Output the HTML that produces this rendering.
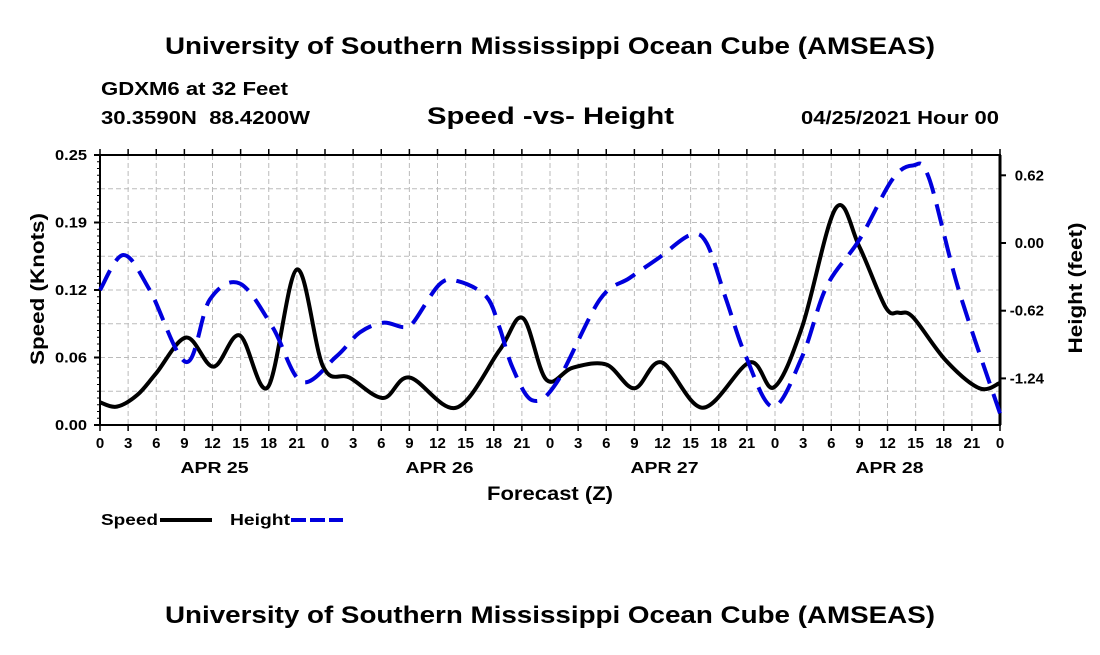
<!DOCTYPE html>
<html><head><meta charset="utf-8">
<style>
body{margin:0;background:#fff;width:1100px;height:650px;overflow:hidden;font-family:"Liberation Sans",sans-serif;}
svg text{font-family:"Liberation Sans",sans-serif;font-weight:bold;fill:#000;}
</style></head>
<body>
<svg id="chart" width="1100" height="650" xmlns="http://www.w3.org/2000/svg">
<text x="165" y="54" font-size="24" textLength="770" lengthAdjust="spacingAndGlyphs">University of Southern Mississippi Ocean Cube (AMSEAS)</text>
<text x="101" y="95" font-size="18" textLength="187" lengthAdjust="spacingAndGlyphs">GDXM6 at 32 Feet</text>
<text x="101" y="124" font-size="18" textLength="209" lengthAdjust="spacingAndGlyphs" xml:space="preserve">30.3590N  88.4200W</text>
<text x="427" y="124" font-size="24" textLength="247" lengthAdjust="spacingAndGlyphs">Speed -vs- Height</text>
<text x="801" y="124" font-size="18" textLength="198" lengthAdjust="spacingAndGlyphs">04/25/2021 Hour 00</text>
<g id="grid"></g>
<g id="axes"></g>
<g id="series"></g>
<text transform="translate(44,289) rotate(-90)" font-size="19" text-anchor="middle" textLength="152" lengthAdjust="spacingAndGlyphs">Speed (Knots)</text>
<text transform="translate(1082,288) rotate(-90)" font-size="19" text-anchor="middle" textLength="131" lengthAdjust="spacingAndGlyphs">Height (feet)</text>
<text x="487" y="500" font-size="19" textLength="126" lengthAdjust="spacingAndGlyphs">Forecast (Z)</text>
<g>
<text x="101" y="525" font-size="16" textLength="57" lengthAdjust="spacingAndGlyphs">Speed</text>
<line x1="160" y1="520" x2="212" y2="520" stroke="#000" stroke-width="4"/>
<text x="230" y="525" font-size="16" textLength="60" lengthAdjust="spacingAndGlyphs">Height</text>
<line x1="291" y1="520" x2="343" y2="520" stroke="#0000dd" stroke-width="4" stroke-dasharray="15,4"/>
</g>
<text x="165" y="623" font-size="24" textLength="770" lengthAdjust="spacingAndGlyphs">University of Southern Mississippi Ocean Cube (AMSEAS)</text>
</svg>
<script>
const speedHours=[0,1.8,4,6,9.2,12.1,14.9,17.9,21,23.8,26.6,30.2,33,38,42.6,45.1,47.6,50.4,54,57,59.9,64.3,69.3,71.9,74.9,78.5,81,83.8,85.2,86.7,90.2,93.8,96];
const speedValues=[0.021,0.017,0.028,0.048,0.081,0.054,0.083,0.035,0.144,0.054,0.044,0.025,0.044,0.016,0.069,0.099,0.042,0.053,0.056,0.034,0.058,0.016,0.058,0.035,0.091,0.201,0.165,0.109,0.104,0.100,0.060,0.034,0.039];
const heightHours=[0,2.5,5.3,9.2,11.7,14.9,18.4,21.5,25.2,27.7,30.2,32.3,33.4,36.2,38.2,41.2,42.6,44,46.1,48.7,53.3,56.5,59.7,62.9,64.7,66.8,68.9,71.8,74.9,77.5,81,84.5,86.7,88.4,91.6,96];
const heightValues=[-0.43,-0.11,-0.43,-1.09,-0.52,-0.37,-0.77,-1.27,-1.04,-0.82,-0.73,-0.77,-0.73,-0.38,-0.35,-0.49,-0.77,-1.14,-1.44,-1.28,-0.52,-0.32,-0.13,0.07,0,-0.52,-1.04,-1.50,-1.04,-0.40,0.03,0.58,0.71,0.60,-0.43,-1.56];
const speedTicks=[0,0.0625,0.125,0.1875,0.25];
const speedTickLabels=["0.00","0.06","0.12","0.19","0.25"];
const heightTicks=[0.62,0,-0.62,-1.24];
const heightTickLabels=["0.62","0.00","-0.62","-1.24"];
const hourLabels=["0","3","6","9","12","15","18","21"];
const dayLabels=["APR 25","APR 26","APR 27","APR 28"];

const L=100,R=1000,T=155,B=425;
const xs=h=>L+(R-L)*h/96;
const ys=v=>B-(B-T)*v/0.25;
const yh=v=>243-(v)*(67.7/0.62);
const NS="http://www.w3.org/2000/svg";
function mk(tag,attrs,parent){const e=document.createElementNS(NS,tag);for(const k in attrs)e.setAttribute(k,attrs[k]);parent.appendChild(e);return e;}
const grid=document.getElementById('grid'),axes=document.getElementById('axes'),series=document.getElementById('series');
for(let i=1;i<32;i++){const x=xs(i*3);
 const g=mk('line',{x1:x,x2:x,y1:T,y2:B,stroke:'#bbb','stroke-width':1,'stroke-dasharray':'5,3'},grid);
 
 }
for(let i=1;i<8;i++){const y=ys(i*0.25/8);
 const g=mk('line',{x1:L,x2:R,y1:y,y2:y,stroke:'#bbb','stroke-width':1,'stroke-dasharray':'5,3'},grid);
 
 }
const fr=mk('rect',{x:L,y:T,width:R-L,height:B-T,fill:'none',stroke:'#000','stroke-width':2},axes);


mk('line',{x1:R,x2:R,y1:T,y2:B,stroke:'#000','stroke-width':3},axes);
speedTicks.forEach((v,i)=>{const y=ys(v);
 mk('line',{x1:L-6,x2:L,y1:y,y2:y,stroke:'#000','stroke-width':2},axes);
 const t=mk('text',{x:L-13,y:y+5,'font-size':15,'text-anchor':'end',textLength:32,lengthAdjust:'spacingAndGlyphs'},axes);t.textContent=speedTickLabels[i];
 
 });
for(let i=0;i<=40;i++){const y=ys(i*0.25/40);mk('line',{x1:L-3,x2:L,y1:y,y2:y,stroke:'#000','stroke-width':1},axes);}
heightTicks.forEach((v,i)=>{const y=yh(v);
 mk('line',{x1:R,x2:R+6,y1:y,y2:y,stroke:'#000','stroke-width':2},axes);
 const t=mk('text',{x:1044,y:y+5,'font-size':15,'text-anchor':'end'},axes);t.textContent=heightTickLabels[i];
 
 });
for(let i=0;i<=32;i++){const x=xs(i*3);
 mk('line',{x1:x,x2:x,y1:B,y2:B+6,stroke:'#000','stroke-width':1.5},axes);
 mk('line',{x1:x,x2:x,y1:T-6,y2:T,stroke:'#000','stroke-width':1.5},axes);
 const t=mk('text',{x:x,y:448,'font-size':15,'text-anchor':'middle'},axes);t.textContent=i==32?"0":hourLabels[i%8];
 
 }
dayLabels.forEach((d,i)=>{const t=mk('text',{x:xs(i*24+12)+2,y:473,'font-size':16,'text-anchor':'middle',textLength:68,lengthAdjust:'spacingAndGlyphs'},axes);t.textContent=d;
 
 });
function path(px){let d=`M${px[0][0]},${px[0][1]}`;
 for(let i=0;i<px.length-1;i++){const p0=px[Math.max(0,i-1)],p1=px[i],p2=px[i+1],p3=px[Math.min(px.length-1,i+2)];
  d+=` C${p1[0]+(p2[0]-p0[0])/6},${p1[1]+(p2[1]-p0[1])/6} ${p2[0]-(p3[0]-p1[0])/6},${p2[1]-(p3[1]-p1[1])/6} ${p2[0]},${p2[1]}`;}
 return d;}
const sp=mk('path',{d:path(speedHours.map((h,i)=>[xs(h),ys(speedValues[i])])),fill:'none',stroke:'#000','stroke-width':4},series);


const hp=mk('path',{d:path(heightHours.map((h,i)=>[xs(h),yh(heightValues[i])])),fill:'none',stroke:'#0000dd','stroke-width':4,'stroke-dasharray':'22,11'},series);


</script>
</body></html>
